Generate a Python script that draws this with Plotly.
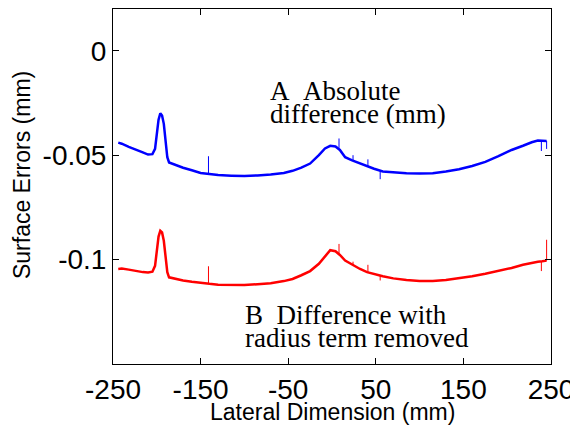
import plotly.graph_objects as go

# lateral position (mm) of the sampled points along the profile
pos_mm = [-244, -240, -232, -224, -216, -210, -205, -202, -200, -198, -196, -194,
          -192, -190, -188, -186, -180, -170, -160, -150, -140, -130, -115, -100,
          -85, -70, -55, -45, -35, -25, -15, -8, -2, 4, 9, 15, 23, 32, 40, 48, 58,
          70, 85, 100, 115, 130, 145, 160, 175, 190, 205, 218, 228, 235, 240, 245]

# A: absolute difference
absolute_diff = [-0.0440, -0.0445, -0.0460, -0.0475, -0.0487, -0.0497, -0.0495, -0.0470,
                 -0.0400, -0.0330, -0.0300, -0.0310, -0.0350, -0.0430, -0.0510, -0.0535,
                 -0.0545, -0.0560, -0.0572, -0.0585, -0.0590, -0.0595, -0.0598, -0.0600,
                 -0.0597, -0.0593, -0.0585, -0.0575, -0.0560, -0.0540, -0.0500, -0.0468,
                 -0.0455, -0.0458, -0.0475, -0.0510, -0.0525, -0.0540, -0.0552, -0.0565,
                 -0.0578, -0.0583, -0.0586, -0.0588, -0.0586, -0.0578, -0.0567, -0.0552,
                 -0.0532, -0.0505, -0.0475, -0.0455, -0.0438, -0.0430, -0.0432, -0.0432]

# B: difference with radius term removed
radius_removed = [-0.1045, -0.1043, -0.1048, -0.1055, -0.1060, -0.1062, -0.1058, -0.1030,
                  -0.0960, -0.0890, -0.0862, -0.0870, -0.0910, -0.0990, -0.1060, -0.1085,
                  -0.1092, -0.1100, -0.1106, -0.1112, -0.1116, -0.1120, -0.1122, -0.1122,
                  -0.1118, -0.1113, -0.1103, -0.1093, -0.1075, -0.1055, -0.1020, -0.0985,
                  -0.0955, -0.0960, -0.0978, -0.1005, -0.1025, -0.1045, -0.1060, -0.1070,
                  -0.1080, -0.1090, -0.1098, -0.1102, -0.1102, -0.1098, -0.1090, -0.1080,
                  -0.1068, -0.1055, -0.1040, -0.1025, -0.1015, -0.1010, -0.1008, -0.1005]

# thin measurement spikes: position, curve value, spike tip
spike_pos = [-141, 8, 24, 41, 55, 239, 245]
abs_spike_base = [-0.0590, -0.0465, -0.0527, -0.0553, -0.0577, -0.0432, -0.0432]
abs_spike_tip = [-0.0505, -0.0420, -0.0500, -0.0520, -0.0615, -0.0480, -0.0470]
rad_spike_base = [-0.1116, -0.0970, -0.1027, -0.1061, -0.1078, -0.1008, -0.1005]
rad_spike_tip = [-0.1032, -0.0925, -0.1010, -0.1025, -0.1100, -0.1055, -0.0905]

x_ticks = [-250, -150, -50, 50, 150, 250]
x_tick_labels = ["-250", "-150", "-50", "50", "150", "250"]
y_ticks = [0, -0.05, -0.1]
y_tick_labels = ["0", "-0.05", "-0.1"]


def spike_trace(base, tip, color):
    xs, ys = [], []
    for p, b, t in zip(spike_pos, base, tip):
        xs += [p, p, None]
        ys += [b, t, None]
    return go.Scatter(x=xs, y=ys, mode="lines", line=dict(color=color, width=1))


fig = go.Figure()
fig.add_trace(go.Scatter(x=pos_mm, y=absolute_diff, mode="lines",
                         line=dict(color="#0000ff", width=2.5)))
fig.add_trace(spike_trace(abs_spike_base, abs_spike_tip, "#0000ff"))
fig.add_trace(go.Scatter(x=pos_mm, y=radius_removed, mode="lines",
                         line=dict(color="#ff0000", width=2.5)))
fig.add_trace(spike_trace(rad_spike_base, rad_spike_tip, "#ff0000"))

serif = dict(family="Liberation Serif", size=27, color="black")
labels = [(-73, -0.0195, "A\u00a0\u00a0Absolute"),
          (-73, -0.0305, "difference (mm)"),
          (-101.5, -0.1265, "B\u00a0\u00a0Difference with"),
          (-101.5, -0.1375, "radius term removed")]
for lx, ly, txt in labels:
    fig.add_annotation(x=lx, y=ly, text=txt, showarrow=False, xanchor="left",
                       yanchor="middle", font=serif)

sans = dict(family="Liberation Sans", color="black")
fig.add_annotation(x=-0.208, y=0.532, xref="paper", yref="paper", text="Surface Errors (mm)",
                   textangle=-90, showarrow=False, xanchor="center", yanchor="middle",
                   font=dict(sans, size=23))
fig.add_annotation(x=0.5, y=-0.135, xref="paper", yref="paper",
                   text="Lateral Dimension (mm)", showarrow=False,
                   xanchor="center", yanchor="middle", font=dict(sans, size=23))

# page body adds an 8px offset, so the figure is 8px smaller than the window
fig.update_layout(
    width=570, height=418,
    margin=dict(l=105, r=27, t=1, b=62),
    paper_bgcolor="white", plot_bgcolor="white",
    showlegend=False,
    font=sans,
)
fig.update_xaxes(range=[-250, 250], tickvals=x_ticks, ticktext=x_tick_labels,
                 ticks="inside", ticklen=6, tickcolor="black", showline=True,
                 linecolor="black", linewidth=1, mirror="ticks", showgrid=False,
                 zeroline=False, automargin=False, tickfont=dict(size=28))
fig.update_yaxes(range=[-0.15, 0.02], tickvals=y_ticks, ticktext=y_tick_labels,
                 ticks="inside", ticklen=6, tickcolor="black", showline=True,
                 linecolor="black", linewidth=1, mirror="ticks", showgrid=False,
                 zeroline=False, automargin=False, tickfont=dict(size=28))

fig.write_html("out.html")
